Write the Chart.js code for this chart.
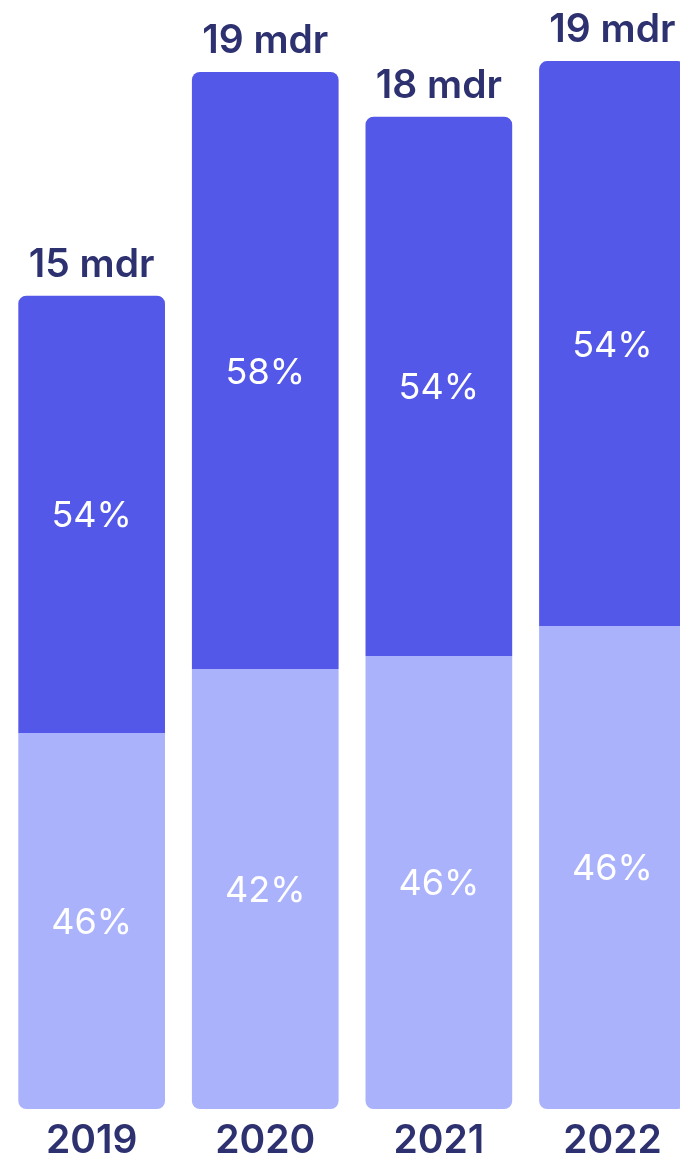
<!DOCTYPE html>
<html>
<head>
<meta charset="utf-8">
<script src="https://cdn.jsdelivr.net/npm/chart.js@4/dist/chart.umd.min.js"></script>
<style>
  html, body { margin: 0; padding: 0; background: #ffffff; overflow: hidden; }
  #wrap { width: 700px; height: 1157px; }
</style>
</head>
<body>
<div id="wrap"><canvas id="c" width="700" height="1157"></canvas></div>
<script>
// Data (mdr)
const years = ['2019', '2020', '2021', '2022'];
const lowerShare = [6.89, 8.06, 8.30, 8.85];   // light segment
const upperShare = [8.01, 10.94, 9.88, 10.35]; // dark segment

const DARK = '#5358E8';
const LIGHT = '#ABB2FC';
const NAVY = '#2E3170';
const FONT = 'Inter, "Noto Sans", sans-serif';

const totals = years.map((_, i) => lowerShare[i] + upperShare[i]);

const labelPlugin = {
  id: 'labels',
  afterDatasetsDraw(chart) {
    const ctx = chart.ctx;
    ctx.save();
    ctx.textAlign = 'center';
    ctx.textBaseline = 'alphabetic';
    chart.data.datasets.forEach((ds, di) => {
      const meta = chart.getDatasetMeta(di);
      meta.data.forEach((el, i) => {
        const pct = Math.round(ds.data[i] / totals[i] * 100) + '%';
        const cy = (el.y + el.base) / 2;
        ctx.fillStyle = '#ffffff';
        ctx.font = '400 36px ' + FONT;
        ctx.fillText(pct, el.x, cy + 13);
        if (di === chart.data.datasets.length - 1) {
          ctx.fillStyle = NAVY;
          ctx.font = '600 39px ' + FONT;
          ctx.fillText(Math.round(totals[i]) + ' mdr', el.x, el.y - 19);
        }
      });
    });
    ctx.restore();
  }
};

new Chart(document.getElementById('c'), {
  type: 'bar',
  data: {
    labels: years,
    datasets: [
      {
        data: lowerShare,
        backgroundColor: LIGHT,
        borderSkipped: false,
        borderRadius: { topLeft: 0, topRight: 0, bottomLeft: 8, bottomRight: 8 },
        categoryPercentage: 1,
        barPercentage: 0.845
      },
      {
        data: upperShare,
        backgroundColor: DARK,
        borderSkipped: false,
        borderRadius: { topLeft: 8, topRight: 8, bottomLeft: 0, bottomRight: 0 },
        categoryPercentage: 1,
        barPercentage: 0.845
      }
    ]
  },
  options: {
    responsive: false,
    animation: false,
    devicePixelRatio: 1,
    layout: { padding: { left: 4.85, right: 0.75, top: 17.4, bottom: 0 } },
    plugins: { legend: { display: false }, tooltip: { enabled: false } },
    scales: {
      x: {
        stacked: true,
        grid: { display: false, drawTicks: false },
        border: { display: false },
        afterFit(scale) { scale.height = 48; },
        ticks: { color: NAVY, font: { family: FONT, size: 39, weight: '600' }, padding: 8.5, maxRotation: 0, autoSkip: false }
      },
      y: {
        stacked: true,
        display: false,
        min: 0,
        max: 20
      }
    }
  },
  plugins: [labelPlugin]
});
</script>
</body>
</html>
